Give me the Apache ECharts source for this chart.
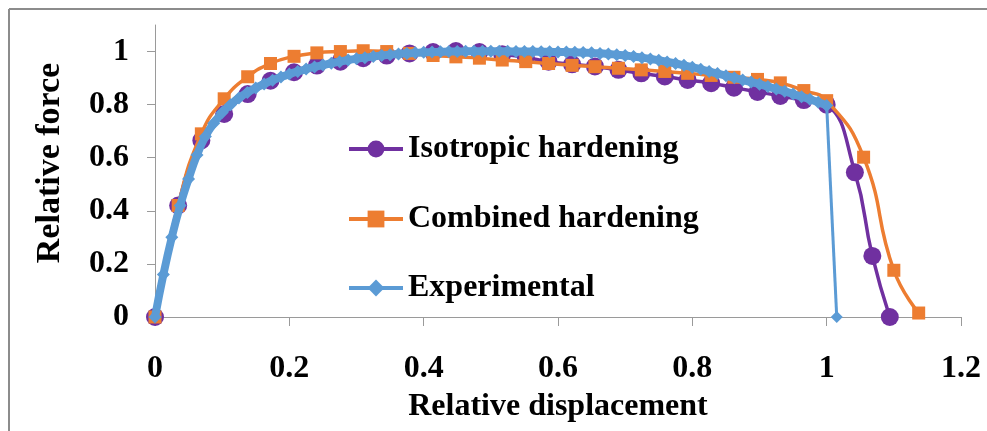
<!DOCTYPE html>
<html>
<head>
<meta charset="utf-8">
<script src="https://cdn.jsdelivr.net/npm/echarts@6/dist/echarts.min.js"></script>
<style>
  html, body { margin: 0; padding: 0; background: #ffffff; }
  #chart { width: 987px; height: 431px; }
</style>
</head>
<body>
<div id="chart"></div>
<script>
// Shared displacement grid of the two simulated curves, plus their tail points
const simX = [0, 0.0345, 0.069, 0.103, 0.138, 0.172, 0.207, 0.241, 0.276, 0.310,
  0.345, 0.379, 0.414, 0.448, 0.483, 0.517, 0.552, 0.586, 0.621, 0.655,
  0.690, 0.724, 0.759, 0.793, 0.828, 0.862, 0.897, 0.931, 0.966, 1.0];

const isoY = [0, 0.42, 0.665, 0.765, 0.84, 0.89, 0.922, 0.947, 0.962, 0.975,
  0.985, 0.993, 0.998, 1.002, 0.998, 0.99, 0.978, 0.962, 0.952, 0.944,
  0.931, 0.918, 0.906, 0.893, 0.881, 0.864, 0.848, 0.833, 0.817, 0.80];
const isoTailX = [1.042, 1.068, 1.094];
const isoTailY = [0.545, 0.23, 0];

const combY = [0, 0.42, 0.69, 0.822, 0.905, 0.955, 0.982, 0.995, 1.0, 1.003,
  1.0, 0.993, 0.985, 0.98, 0.975, 0.968, 0.962, 0.955, 0.948, 0.943,
  0.937, 0.931, 0.925, 0.918, 0.91, 0.903, 0.895, 0.882, 0.853, 0.815];
const combTailX = [1.055, 1.100, 1.137];
const combTailY = [0.602, 0.176, 0.015];

// Measured curve up to the onset of fracture
const expX = [0, 0.0125, 0.025, 0.0375, 0.05, 0.0625, 0.075, 0.0875, 0.1, 0.1125,
  0.125, 0.1375, 0.15, 0.1625, 0.175, 0.1875, 0.2, 0.2125, 0.225, 0.2375,
  0.25, 0.2625, 0.275, 0.2875, 0.3, 0.3125, 0.325, 0.3375, 0.35, 0.3625,
  0.375, 0.3875, 0.4, 0.4125, 0.425, 0.4375, 0.45, 0.4625, 0.475, 0.4875,
  0.5, 0.5125, 0.525, 0.5375, 0.55, 0.5625, 0.575, 0.5875, 0.6, 0.6125,
  0.625, 0.6375, 0.65, 0.6625, 0.675, 0.6875, 0.7, 0.7125, 0.725, 0.7375,
  0.75, 0.7625, 0.775, 0.7875, 0.8, 0.8125, 0.825, 0.8375, 0.85, 0.8625,
  0.875, 0.8875, 0.9, 0.9125, 0.925, 0.9375, 0.95, 0.9625, 0.975, 0.9875,
  1.0];
const expY = [0, 0.16, 0.30, 0.42, 0.52, 0.61, 0.68, 0.73, 0.77, 0.80,
  0.825, 0.846, 0.863, 0.878, 0.892, 0.904, 0.915, 0.925, 0.934, 0.942,
  0.949, 0.956, 0.962, 0.968, 0.973, 0.977, 0.981, 0.985, 0.988, 0.991,
  0.993, 0.995, 0.997, 0.998, 0.999, 1.0, 1.0, 1.001, 1.001, 1.001,
  1.001, 1.001, 1.001, 1.0, 1.0, 1.0, 0.999, 0.999, 0.998, 0.998,
  0.997, 0.996, 0.995, 0.993, 0.991, 0.988, 0.985, 0.981, 0.977, 0.972,
  0.967, 0.961, 0.955, 0.948, 0.941, 0.933, 0.925, 0.917, 0.909, 0.901,
  0.893, 0.885, 0.877, 0.868, 0.859, 0.850, 0.840, 0.830, 0.820, 0.809,
  0.797];
// Fracture drop of the measured curve
const expDropX = [1.0, 1.015];
const expDropY = [0.797, 0];

const seriesNames = ['Isotropic hardening', 'Combined hardening', 'Experimental'];
const yTicks = [0, 0.2, 0.4, 0.6, 0.8, 1];

function pairs(xs, ys) { return xs.map((x, i) => [x, ys[i]]); }

const FONT = '"Liberation Serif", "Times New Roman", serif';
const AXIS_COLOR = '#9a9a9a';
const PURPLE = '#7030A0', ORANGE = '#ED7D31', BLUE = '#5B9BD5';
const labelStyle = { fontFamily: FONT, fontWeight: 'bold', fontSize: 32, color: '#000' };

const chart = echarts.init(document.getElementById('chart'), null, { renderer: 'canvas' });

function legendAt(name, top) {
  return {
    data: [name], orient: 'horizontal', left: 342, top: top,
    itemWidth: 54, itemHeight: 21, itemGap: 0,
    lineStyle: { width: 4 },
    textStyle: { fontFamily: FONT, fontWeight: 'bold', fontSize: 32, color: '#000' },
    selectedMode: false
  };
}

chart.setOption({
  animation: false,
  backgroundColor: '#ffffff',
  grid: { left: 155, right: 26, top: 25, bottom: 114, containLabel: false },
  xAxis: {
    type: 'value', min: 0, max: 1.2, interval: 0.2,
    name: 'Relative displacement', nameLocation: 'middle', nameGap: 74,
    nameTextStyle: labelStyle,
    axisLine: { show: true, onZero: false, lineStyle: { color: AXIS_COLOR, width: 1 } },
    axisTick: { show: true, inside: false, length: 9, lineStyle: { color: AXIS_COLOR } },
    axisLabel: Object.assign({ margin: 36 }, labelStyle),
    splitLine: { show: false }
  },
  yAxis: {
    type: 'value', min: 0, max: 1.1,
    axisLine: { show: true, onZero: false, lineStyle: { color: AXIS_COLOR, width: 1 } },
    axisTick: { show: true, length: 8, customValues: yTicks, lineStyle: { color: AXIS_COLOR } },
    axisLabel: Object.assign({ margin: 26, customValues: yTicks }, labelStyle),
    splitLine: { show: false }
  },
  legend: [
    legendAt(seriesNames[0], 128),
    legendAt(seriesNames[1], 198),
    legendAt(seriesNames[2], 267)
  ],
  graphic: [
    { type: 'line', shape: { x1: 9, y1: 9, x2: 987, y2: 9 }, style: { stroke: '#8c8c8c', lineWidth: 2 }, silent: true },
    { type: 'line', shape: { x1: 9, y1: 9, x2: 9, y2: 431 }, style: { stroke: '#8c8c8c', lineWidth: 2 }, silent: true },
    {
      type: 'text', x: 50, y: 163, rotation: Math.PI / 2, silent: true,
      style: {
        text: 'Relative force', x: 0, y: 0, align: 'center', verticalAlign: 'middle',
        font: 'bold 34px ' + FONT, fill: '#000'
      }
    }
  ],
  series: [
    {
      name: seriesNames[0], type: 'line', z: 2,
      data: pairs(simX.concat(isoTailX), isoY.concat(isoTailY)),
      smooth: 0.5, symbol: 'circle', symbolSize: 18, showAllSymbol: true,
      itemStyle: { color: PURPLE },
      lineStyle: { color: PURPLE, width: 3.5 }
    },
    {
      name: seriesNames[1], type: 'line', z: 3,
      data: pairs(simX.concat(combTailX), combY.concat(combTailY)),
      smooth: 0.5, symbol: 'rect', symbolSize: 13, showAllSymbol: true,
      itemStyle: { color: ORANGE },
      lineStyle: { color: ORANGE, width: 3.5 }
    },
    {
      name: seriesNames[2], type: 'line', z: 4,
      data: pairs(expX, expY),
      smooth: 0.5, symbol: 'diamond', symbolSize: 13, showAllSymbol: true,
      itemStyle: { color: BLUE },
      lineStyle: { color: BLUE, width: 8 }
    },
    {
      name: seriesNames[2], type: 'line', z: 4,
      data: pairs(expDropX, expDropY),
      symbol: 'diamond', symbolSize: 12, showAllSymbol: true,
      itemStyle: { color: BLUE },
      lineStyle: { color: BLUE, width: 3 }
    }
  ]
});
</script>
</body>
</html>
